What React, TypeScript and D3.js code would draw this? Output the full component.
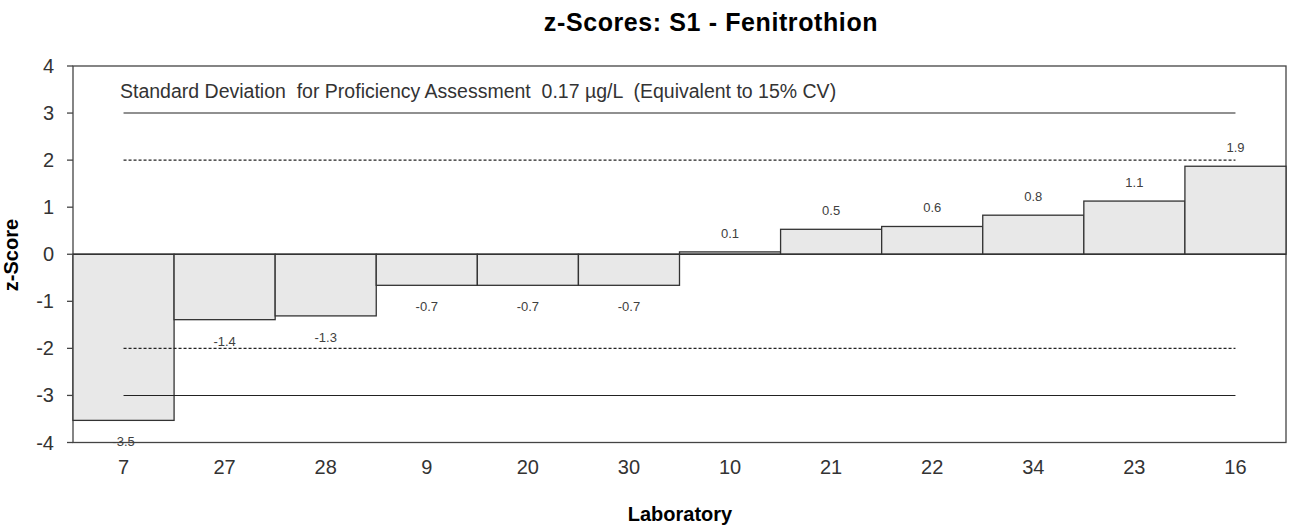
import React from "react";
import * as d3 from "d3";

const labs = ["7", "27", "28", "9", "20", "30", "10", "21", "22", "34", "23", "16"];
const zScores = [-3.53, -1.39, -1.31, -0.66, -0.66, -0.66, 0.05, 0.53, 0.59, 0.83, 1.13, 1.87];
const zLabels = ["-3.5", "-1.4", "-1.3", "-0.7", "-0.7", "-0.7", "0.1", "0.5", "0.6", "0.8", "1.1", "1.9"];
const yTicks = [-4, -3, -2, -1, 0, 1, 2, 3, 4];
const refLines = [
  { v: 3, dashed: false },
  { v: 2, dashed: true },
  { v: -2, dashed: true },
  { v: -3, dashed: false },
];
const title = "z-Scores: S1 - Fenitrothion";
const note = "Standard Deviation  for Proficiency Assessment  0.17 µg/L  (Equivalent to 15% CV)";

export default function App() {
  const W = 1292, H = 529;
  const m = { l: 73, r: 1286, t: 66, b: 442.5 };
  const x = d3.scaleBand().domain(labs).range([m.l, m.r]).padding(0);
  const y = d3.scaleLinear().domain([-4, 4]).range([m.b, m.t]);
  const font = "Arial, 'Liberation Sans', sans-serif";
  const first = x(labs[0])! + x.bandwidth() / 2;
  const last = x(labs[labs.length - 1])! + x.bandwidth() / 2;
  return (
    <svg width={W} height={H} style={{ position: "absolute", left: 0, top: 0, background: "#fff" }} fontFamily={font}>
      <text x={711} y={31} textAnchor="middle" fontWeight="bold" fontSize={25} letterSpacing={0.6} fill="#000">{title}</text>
      {/* plot border */}
      <rect x={m.l} y={m.t} width={m.r - m.l} height={m.b - m.t} fill="none" stroke="#444" strokeWidth={1.3} />
      {/* bars */}
      {labs.map((l, i) => {
        const v = zScores[i];
        const y0 = y(0), y1 = y(v);
        return (
          <rect key={l} x={x(l)} y={Math.min(y0, y1)} width={x.bandwidth()} height={Math.abs(y1 - y0)}
            fill="#e8e8e8" stroke="#333" strokeWidth={1.3} />
        );
      })}
      {/* zero line */}
      <line x1={m.l} x2={m.r} y1={y(0)} y2={y(0)} stroke="#333" strokeWidth={1.3} />
      {/* reference lines */}
      {refLines.map((r) => (
        <line key={r.v} x1={first} x2={last} y1={y(r.v)} y2={y(r.v)} stroke="#222"
          strokeWidth={1.1} strokeDasharray={r.dashed ? "3,2" : undefined} />
      ))}
      {/* value labels */}
      {labs.map((l, i) => {
        const v = zScores[i];
        const cx = x(l)! + x.bandwidth() / 2;
        const ty = v >= 0 ? y(v) - 14 : y(v) + 26;
        return (
          <text key={"t" + l} x={cx} y={ty} textAnchor="middle" fontSize={13} fill="#404040">{zLabels[i]}</text>
        );
      })}
      {/* note */}
      <text x={120} y={98} fontSize={19.5} fill="#333" style={{ whiteSpace: "pre" }}>{note}</text>
      {/* y axis ticks */}
      {yTicks.map((t) => (
        <g key={"y" + t}>
          <line x1={m.l - 6} x2={m.l} y1={y(t)} y2={y(t)} stroke="#444" strokeWidth={1.3} />
          <text x={54} y={y(t) + 7} textAnchor="end" fontSize={20} fill="#333">{t}</text>
        </g>
      ))}
      {/* x axis labels */}
      {labs.map((l) => (
        <text key={"x" + l} x={x(l)! + x.bandwidth() / 2} y={474} textAnchor="middle" fontSize={20} fill="#333">{l}</text>
      ))}
      <text x={680} y={521} textAnchor="middle" fontWeight="bold" fontSize={20} fill="#000">Laboratory</text>
      <text transform={`translate(18,255) rotate(-90)`} textAnchor="middle" fontWeight="bold" fontSize={20} fill="#000">z-Score</text>
    </svg>
  );
}
